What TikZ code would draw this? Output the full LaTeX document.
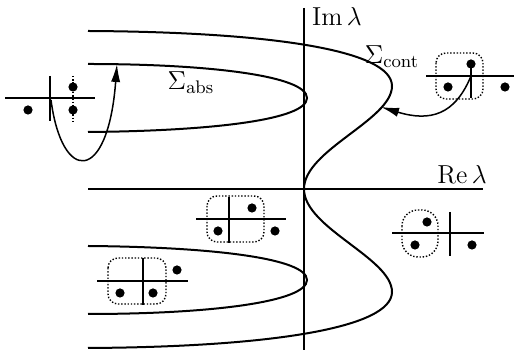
\documentclass[tikz,border=0pt]{standalone}
\usepackage{fix-cm}
\usetikzlibrary{arrows.meta,positioning}
\begin{document}
\begin{tikzpicture}[
  x=0.5pt,y=-0.5pt,
  every node/.style={font=\fontsize{13}{15}\selectfont},
  axis/.style={line width=0.75pt},
  branch/.style={line width=1pt},
  minor/.style={line width=0.65pt},
  pole/.style={circle,fill,inner sep=0pt,minimum size=4.6pt},
  group/.style={dash pattern=on 0.7pt off 0.9pt,line width=0.7pt,rounded corners=5pt},
  arr/.style={-{Latex[length=9pt,width=4.6pt]},line width=0.75pt},
]
\useasboundingbox (0,0) rectangle (514,356);

% axes
\draw[axis] (304,8) -- (304,350);
\draw[axis] (88,189) -- (483,189);
\node (im) at (337,16) {$\mathrm{Im}\,\lambda$};
\node (re) at (462,174) {$\mathrm{Re}\,\lambda$};

% Sigma_cont
\draw[branch] (88,31) .. controls (270,32) and (392,50) .. (392,86)
  .. controls (392,120) and (304,150) .. (304,189)
  .. controls (304,228) and (392,258) .. (392,292)
  .. controls (392,328) and (270,347) .. (88,348);

% Sigma_abs, upper and lower
\draw[branch] (88,64) .. controls (210,64) and (307,76) .. (307,98)
  .. controls (307,120) and (210,131) .. (88,132);
\draw[branch] (88,246) .. controls (210,247) and (307,258) .. (307,280)
  .. controls (307,302) and (210,314) .. (88,314);

\node (sabs) at (191,83) {$\Sigma_{\mathrm{abs}}$};
\node (scont) at (392,57) {$\Sigma_{\mathrm{cont}}$};

% inset, top left
\draw[minor] (5,98) -- (95,98);
\draw[minor] (50,76) -- (50,121);
\draw[minor,dash pattern=on 0.7pt off 0.9pt] (73,76) -- (73,121);
\node[pole] (a1) at (28,110) {};
\node[pole] (a2) at (73,87) {};
\node[pole] (a3) at (73,110) {};
\coordinate (ao) at (51,100);
\coordinate (at) at (117,64);
\draw[arr] (ao) .. controls (62,184) and (108,184) .. (at);

% inset, top right
\draw[minor] (426,76) -- (514,76);
\draw[minor] (471,64) -- (471,98);
\draw[group] (436,53) rectangle (483,99);
\node[pole] (b1) at (471,64) {};
\node[pole] (b2) at (448,87) {};
\node[pole] (b3) at (505,87) {};
\coordinate (bo) at (471,76);
\coordinate (bt) at (381,107);
\draw[arr] (bo) .. controls (455,115) and (430,122) .. (bt);

% inset, lower middle
\draw[minor] (196,219) -- (286,219);
\draw[minor] (229,197) -- (229,243);
\draw[group] (207,196) rectangle (264,242);
\node[pole] (c1) at (218,231) {};
\node[pole] (c2) at (252,208) {};
\node[pole] (c3) at (275,231) {};

% inset, lower left
\draw[minor] (97,281) -- (188,281);
\draw[minor] (143,258) -- (143,305);
\draw[group] (108,258) rectangle (166,304);
\node[pole] (d1) at (120,293) {};
\node[pole] (d2) at (153,293) {};
\node[pole] (d3) at (177,270) {};

% inset, lower right
\draw[minor] (392,233) -- (484,233);
\draw[minor] (450,212) -- (450,256);
\draw[group,rounded corners=8pt] (402,210) rectangle (438,257);
\node[pole] (e1) at (427,222) {};
\node[pole] (e2) at (415,245) {};
\node[pole] (e3) at (472,245) {};
\end{tikzpicture}
\end{document}
